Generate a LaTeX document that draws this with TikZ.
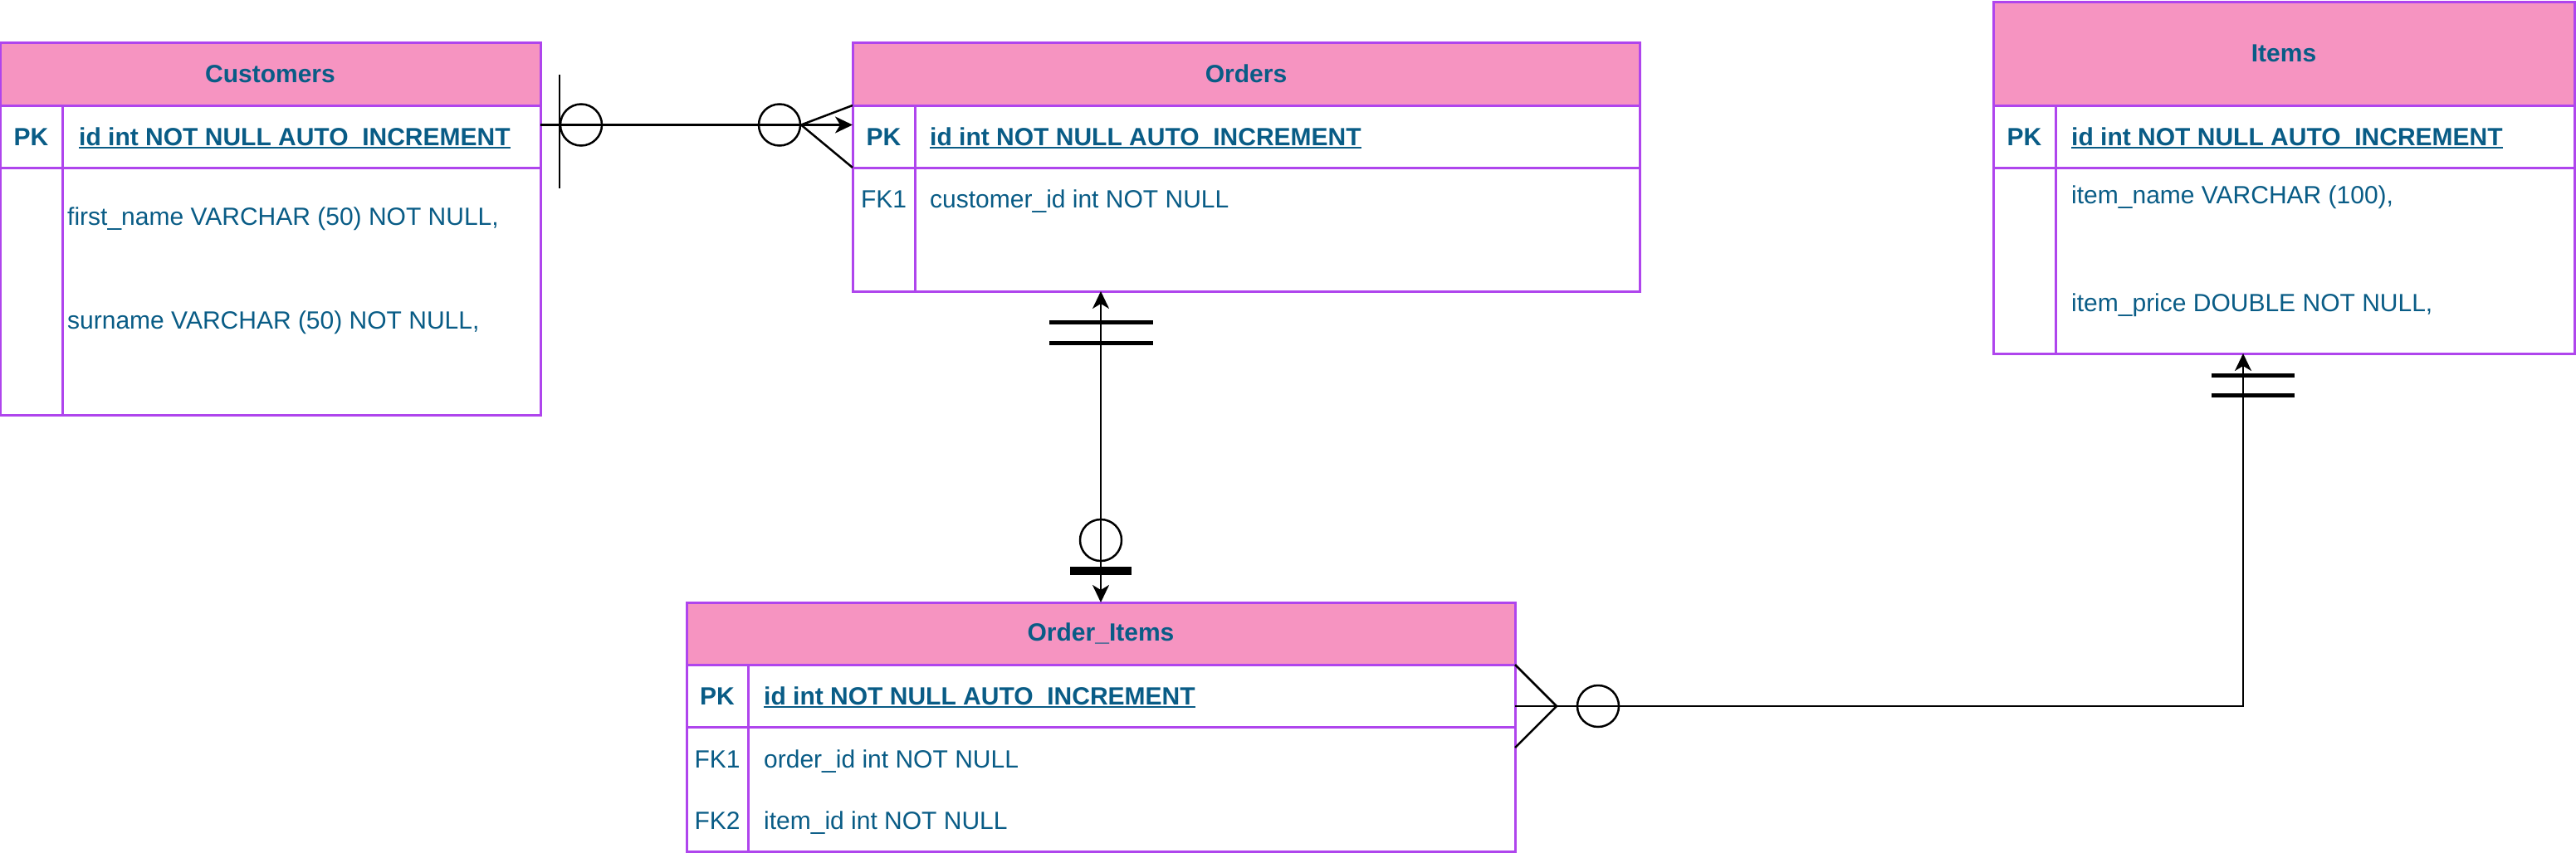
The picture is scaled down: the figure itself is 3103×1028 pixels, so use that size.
\documentclass[tikz,border=0pt]{standalone}
\usepackage{fontspec}
\setmainfont{Liberation Sans}
\usetikzlibrary{arrows.meta}
\definecolor{hdrpink}{HTML}{F694C1}
\definecolor{tblline}{HTML}{AF45ED}
\definecolor{txtblue}{HTML}{095C86}
\newsavebox\ulbox
\newcommand{\ulfield}[1]{\sbox\ulbox{#1}\rlap{\rule[-4pt]{\wd\ulbox}{2.5pt}}\usebox\ulbox}

\begin{document}
\begin{tikzpicture}[x=1pt,y=-1pt,
    font=\fontsize{30}{36}\selectfont,
    >={Stealth[length=21pt,width=20pt,inset=6pt]},
    hdr/.style={draw=tblline, fill=hdrpink, line width=3pt, anchor=north west,
        inner sep=0pt, outer sep=0pt, text=txtblue, font=\fontsize{30}{36}\selectfont\bfseries},
    tcell/.style={draw=tblline, fill=white, line width=3pt, anchor=north west,
        inner sep=0pt, outer sep=0pt, minimum height=75pt},
    divider/.style={draw=tblline, line width=3pt},
    keycol/.style={text=txtblue, inner sep=0pt, text height=21.5pt, text depth=0pt},
    fld/.style={keycol, anchor=west},
    conn/.style={line width=2.5pt},
    bar/.style={line width=5pt}
]
\useasboundingbox (0,0) rectangle (3103,1028);

% Customers
\node[hdr, minimum width=651pt, minimum height=76pt] (custH) at (0,51) {Customers};
\node[tcell, minimum width=651pt] (custPK) at (custH.south west) {};
\node[tcell, minimum width=651pt, minimum height=298pt] (custBody) at (custPK.south west) {};
\draw[divider] ([xshift=75pt]custPK.north west) -- ([xshift=75pt]custBody.south west);
\node[keycol] (custPKk) at ([xshift=37.5pt]custPK.west) {\bfseries PK};
\node[fld] (custPKf) at ([xshift=95pt]custPK.west) {\bfseries\ulfield{id int NOT NULL AUTO\_INCREMENT}};
\node[fld] (custF1) at ([xshift=81pt,yshift=-59pt]custBody.north west) {first\_name VARCHAR (50) NOT NULL,};
\node[fld] (custF2) at ([xshift=81pt,yshift=-184pt]custBody.north west) {surname VARCHAR (50) NOT NULL,};

% Orders
\node[hdr, minimum width=948pt, minimum height=76pt] (ordH) at (1027,51) {Orders};
\node[tcell, minimum width=948pt] (ordPK) at (ordH.south west) {};
\node[tcell, minimum width=948pt, minimum height=149pt] (ordBody) at (ordPK.south west) {};
\draw[divider] ([xshift=75pt]ordPK.north west) -- ([xshift=75pt]ordBody.south west);
\node[keycol] (ordPKk) at ([xshift=37.5pt]ordPK.west) {\bfseries PK};
\node[fld] (ordPKf) at ([xshift=93pt]ordPK.west) {\bfseries\ulfield{id int NOT NULL AUTO\_INCREMENT}};
\node[keycol] (ordFKk) at ([xshift=37.5pt,yshift=-38pt]ordBody.north west) {FK1};
\node[fld] (ordF1) at ([xshift=93pt,yshift=-38pt]ordBody.north west) {customer\_id int NOT NULL};

% Order_Items
\node[hdr, minimum width=998pt, minimum height=75pt] (oiH) at (827,726) {Order\_Items};
\node[tcell, minimum width=998pt] (oiPK) at (oiH.south west) {};
\node[tcell, minimum width=998pt, minimum height=150pt] (oiBody) at (oiPK.south west) {};
\draw[divider] ([xshift=74pt]oiPK.north west) -- ([xshift=74pt]oiBody.south west);
\node[keycol] (oiPKk) at ([xshift=37pt]oiPK.west) {\bfseries PK};
\node[fld] (oiPKf) at ([xshift=93pt]oiPK.west) {\bfseries\ulfield{id int NOT NULL AUTO\_INCREMENT}};
\node[keycol] (oiFK1k) at ([xshift=37pt,yshift=-39pt]oiBody.north west) {FK1};
\node[fld] (oiF1) at ([xshift=93pt,yshift=-39pt]oiBody.north west) {order\_id int NOT NULL};
\node[keycol] (oiFK2k) at ([xshift=37pt,yshift=-113pt]oiBody.north west) {FK2};
\node[fld] (oiF2) at ([xshift=93pt,yshift=-113pt]oiBody.north west) {item\_id int NOT NULL};

% Items
\node[hdr, minimum width=700pt, minimum height=125pt] (itH) at (2401,2) {Items};
\node[tcell, minimum width=700pt] (itPK) at (itH.south west) {};
\node[tcell, minimum width=700pt, minimum height=224pt] (itBody) at (itPK.south west) {};
\draw[divider] ([xshift=75pt]itPK.north west) -- ([xshift=75pt]itBody.south west);
\node[keycol] (itPKk) at ([xshift=37.5pt]itPK.west) {\bfseries PK};
\node[fld] (itPKf) at ([xshift=94pt]itPK.west) {\bfseries\ulfield{id int NOT NULL AUTO\_INCREMENT}};
\node[fld] (itF1) at ([xshift=94pt,yshift=-33pt]itBody.north west) {item\_name VARCHAR (100),};
\node[fld] (itF2) at ([xshift=94pt,yshift=-163pt]itBody.north west) {item\_price DOUBLE NOT NULL,};

% Customers -- Orders
\draw[conn,->] ([yshift=14pt]custPK.east) coordinate (cuEnd) -- ([yshift=14pt]ordPK.west) coordinate (orEnd);
\draw[conn] ([xshift=23pt,yshift=61pt]cuEnd) -- ([xshift=23pt,yshift=-76pt]cuEnd);
\draw[conn] ([xshift=49pt]cuEnd) circle[radius=25pt];
\draw[conn] ([xshift=-88pt]orEnd) circle[radius=25pt];
\draw[conn] (ordPK.north west) -- ([xshift=-62pt]orEnd) -- (ordPK.south west);

% Orders -- Order_Items
\draw[conn,<->] (oiH.north |- ordBody.south) coordinate (orBot) -- (oiH.north) coordinate (oiTop);
\draw[bar] ([xshift=-62pt,yshift=-37pt]orBot) -- ([xshift=63pt,yshift=-37pt]orBot);
\draw[bar] ([xshift=-62pt,yshift=-62pt]orBot) -- ([xshift=63pt,yshift=-62pt]orBot);
\draw[conn] ([yshift=75pt]oiTop) circle[radius=25pt];
\draw[line width=10pt] ([xshift=-37pt,yshift=38pt]oiTop) -- ([xshift=37pt,yshift=38pt]oiTop);

% Order_Items -- Items
\draw[conn,->] ([yshift=-12.5pt]oiPK.east) coordinate (oiEnd) -| ([xshift=-49pt]itBody.south) coordinate (itBot);
\draw[conn] (oiPK.north east) -- ([xshift=50pt]oiEnd) -- ([yshift=-50pt]oiEnd);
\draw[conn] ([xshift=100pt]oiEnd) circle[radius=25pt];
\draw[bar] ([xshift=-38pt,yshift=-26pt]itBot) -- ([xshift=62pt,yshift=-26pt]itBot);
\draw[bar] ([xshift=-38pt,yshift=-50pt]itBot) -- ([xshift=62pt,yshift=-50pt]itBot);
\end{tikzpicture}
\end{document}
